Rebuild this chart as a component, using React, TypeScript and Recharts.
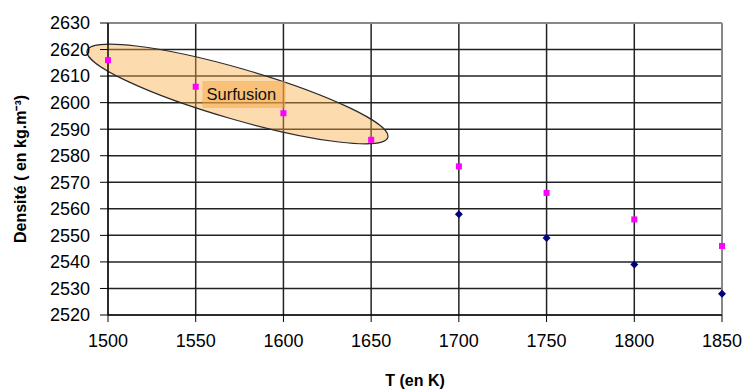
import React from 'react';
import { ScatterChart, Scatter, XAxis, YAxis, CartesianGrid, ReferenceLine } from 'recharts';

// Températures (K) et densités
const temperatures = [1500, 1550, 1600, 1650, 1700, 1750, 1800, 1850];
const densiteLiquide = [2616, 2606, 2596, 2586, 2576, 2566, 2556, 2546];
const temperaturesSolide = [1700, 1750, 1800, 1850];
const densiteSolide = [2558, 2549, 2539, 2528];

const xTicks = [1500, 1550, 1600, 1650, 1700, 1750, 1800, 1850];
const yTicks = [2520, 2530, 2540, 2550, 2560, 2570, 2580, 2590, 2600, 2610, 2620, 2630];

// extrémités de l'ellipse "Surfusion" (en unités des axes)
const zoneSurfusion = [
  { x: 1488.1, y: 2619.6 },
  { x: 1659.5, y: 2586.9 },
];

const liquide = temperatures.map((t, i) => ({ t, d: densiteLiquide[i] }));
const solide = temperaturesSolide.map((t, i) => ({ t, d: densiteSolide[i] }));

const font = '"Liberation Sans", Arial, sans-serif';

const Carre = (props: any) => {
  const { cx, cy } = props;
  return <rect x={cx - 3} y={cy - 3} width={6} height={6} fill="#ff00ff" />;
};

const Losange = (props: any) => {
  const { cx, cy } = props;
  return <path d={`M${cx},${cy - 4}L${cx + 4},${cy}L${cx},${cy + 4}L${cx - 4},${cy}Z`} fill="#000080" />;
};

const EllipseSurfusion = (props: any) => {
  const { x1, y1, x2, y2 } = props;
  const cx = (x1 + x2) / 2;
  const cy = (y1 + y2) / 2;
  const rx = Math.hypot(x2 - x1, y2 - y1) / 2;
  const angle = (Math.atan2(y2 - y1, x2 - x1) * 180) / Math.PI;
  return (
    <g>
      <ellipse
        cx={cx}
        cy={cy}
        rx={rx}
        ry={25.5}
        transform={`rotate(${angle} ${cx} ${cy})`}
        fill="#f7a940"
        fillOpacity={0.42}
        stroke="#2b2b2b"
        strokeWidth={1.2}
      />
      <rect x={cx - 35} y={cy - 13} width={83} height={27} fill="#f5a640" fillOpacity={0.5} />
      <text x={cx - 31} y={cy + 6} fontFamily={font} fontSize={16.5} fill="#111">
        Surfusion
      </text>
    </g>
  );
};

const LabelY = (props: any) => {
  const { viewBox } = props;
  const x = 20;
  const y = viewBox.y + viewBox.height / 2;
  return (
    <text
      x={x}
      y={y}
      transform={`rotate(-90 ${x} ${y})`}
      textAnchor="middle"
      dominantBaseline="central"
      fontFamily={font}
      fontSize={16}
      fontWeight="bold"
      fill="#000"
    >
      Densité ( en kg.m⁻³)
    </text>
  );
};

const LabelX = (props: any) => {
  const { viewBox } = props;
  return (
    <text
      x={viewBox.x + viewBox.width / 2}
      y={viewBox.y + 71}
      textAnchor="middle"
      fontFamily={font}
      fontSize={16}
      fontWeight="bold"
      fill="#000"
    >
      T (en K)
    </text>
  );
};

export default function App() {
  return (
    <div style={{ position: 'absolute', left: 0, top: 0, background: '#fff' }}>
      <ScatterChart width={744} height={390} margin={{ top: 23, right: 22, bottom: 0, left: 0 }}>
        <CartesianGrid stroke="#222" strokeWidth={1.5} />
        <XAxis
          type="number"
          dataKey="t"
          domain={[1500, 1850]}
          ticks={xTicks}
          height={75}
          tickSize={7}
          tickMargin={12}
          stroke="#000"
          tick={{ fill: '#000', fontFamily: font, fontSize: 18 }}
          label={<LabelX />}
        />
        <YAxis
          type="number"
          dataKey="d"
          domain={[2520, 2630]}
          ticks={yTicks}
          width={108}
          tickSize={8}
          tickMargin={10}
          stroke="#000"
          tick={{ fill: '#000', fontFamily: font, fontSize: 18 }}
          label={<LabelY />}
        />
        <ReferenceLine y={2630} stroke="#999" strokeWidth={1.5} />
        <ReferenceLine x={1850} stroke="#999" strokeWidth={1.5} />
        <Scatter data={liquide} shape={<Carre />} isAnimationActive={false} />
        <Scatter data={solide} shape={<Losange />} isAnimationActive={false} />
        <ReferenceLine segment={zoneSurfusion} ifOverflow="visible" shape={<EllipseSurfusion />} />
      </ScatterChart>
    </div>
  );
}
